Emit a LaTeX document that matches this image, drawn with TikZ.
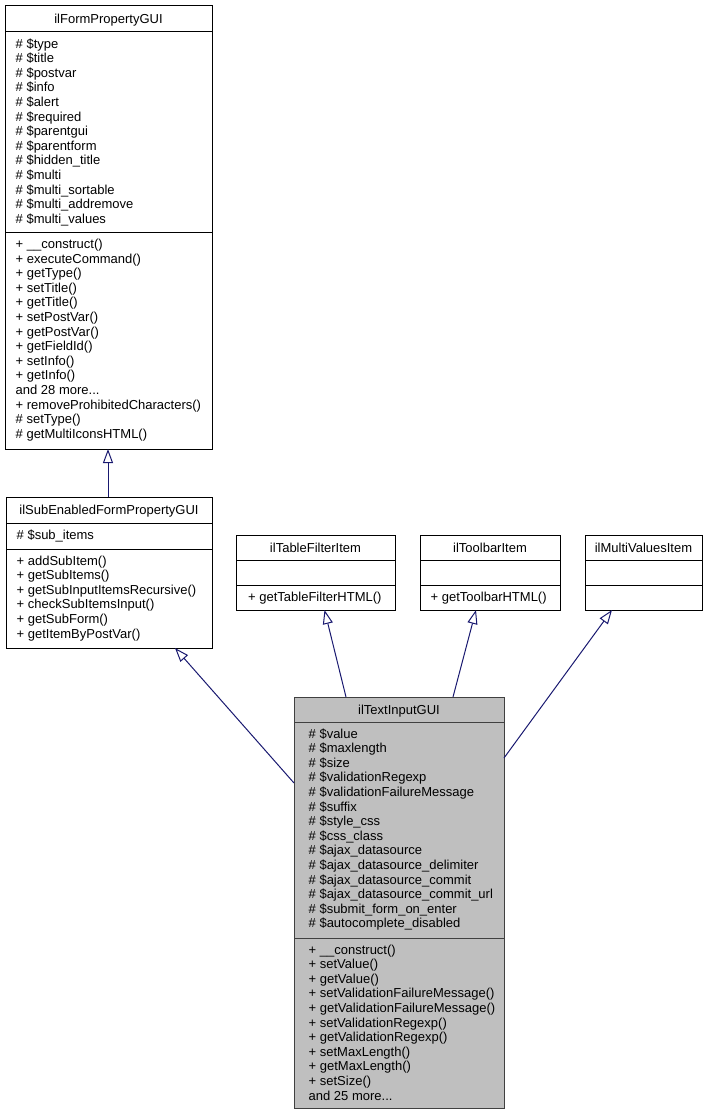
\documentclass[tikz,border=0pt]{standalone}
\usepackage{fontspec}
\setmainfont{Liberation Sans}
\usetikzlibrary{arrows.meta}
\definecolor{edgeblue}{RGB}{25,25,112}
\definecolor{hilite}{RGB}{191,191,191}
\definecolor{hiborder}{RGB}{64,64,64}
\newcommand\ftx{\fontsize{13}{14.6}\selectfont\lineskiplimit=-20pt\lineskip=0pt}
\newcommand\fst{\rule{0pt}{11pt}}
\begin{document}
\begin{tikzpicture}[x=1pt,y=-1pt,
  box/.style={draw=black, line width=1pt, fill=white, inner sep=0pt, outer sep=0pt},
  ttl/.style={anchor=base, inner sep=0pt, font=\ftx},
  mem/.style={anchor=north west, inner sep=0pt, align=left, font=\ftx},
  sepline/.style={draw=black, line width=1pt},
  inh/.style={draw=edgeblue, line width=1pt, -{Triangle[length=14pt,width=10pt,fill=white,line width=1pt]}}]
\useasboundingbox (0,0) rectangle (707,1116);

% ilFormPropertyGUI
\node[box, minimum width=207pt, minimum height=443pt] (fp) at (108.5,227.5) {};
\draw[sepline] (fp.west |- 0,32) -- (fp.east |- 0,32);
\draw[sepline] (fp.west |- 0,232) -- (fp.east |- 0,232);
\node[ttl] (fpT) at (108.5,23.6) {ilFormPropertyGUI};
\node[mem] (fpA) at (15.5,36.8) {\fst\# \$type\\\# \$title\\\# \$postvar\\\# \$info\\\# \$alert\\\# \$required\\\# \$parentgui\\\# \$parentform\\\# \$hidden\_title\\\# \$multi\\\# \$multi\_sortable\\\# \$multi\_addremove\\\# \$multi\_values};
\node[mem] (fpM) at (15.5,237.3) {\fst+ \_\_construct()\\+ executeCommand()\\+ getType()\\+ setTitle()\\+ getTitle()\\+ setPostVar()\\+ getPostVar()\\+ getFieldId()\\+ setInfo()\\+ getInfo()\\and 28 more...\\+ removeProhibitedCharacters()\\\# setType()\\\# getMultiIconsHTML()};

% ilSubEnabledFormPropertyGUI
\node[box, minimum width=206pt, minimum height=151pt] (sub) at (109,572.5) {};
\draw[sepline] (sub.west |- 0,523) -- (sub.east |- 0,523);
\draw[sepline] (sub.west |- 0,549) -- (sub.east |- 0,549);
\node[ttl] (subT) at (109,514.6) {ilSubEnabledFormPropertyGUI};
\node[mem] (subA) at (16.5,527.8) {\fst\# \$sub\_items};
\node[mem] (subM) at (16.5,553.8) {\fst+ addSubItem()\\+ getSubItems()\\+ getSubInputItemsRecursive()\\+ checkSubItemsInput()\\+ getSubForm()\\+ getItemByPostVar()};

% ilTableFilterItem
\node[box, minimum width=159pt, minimum height=75pt] (tf) at (315.5,572.5) {};
\draw[sepline] (tf.west |- 0,560) -- (tf.east |- 0,560);
\draw[sepline] (tf.west |- 0,585) -- (tf.east |- 0,585);
\node[ttl] (tfT) at (315.5,552.1) {ilTableFilterItem};
\node[mem] (tfM) at (248,589.8) {\fst+ getTableFilterHTML()};

% ilToolbarItem
\node[box, minimum width=140pt, minimum height=75pt] (tb) at (490,572.5) {};
\draw[sepline] (tb.west |- 0,560) -- (tb.east |- 0,560);
\draw[sepline] (tb.west |- 0,585) -- (tb.east |- 0,585);
\node[ttl] (tbT) at (490,552.1) {ilToolbarItem};
\node[mem] (tbM) at (430.5,589.8) {\fst+ getToolbarHTML()};

% ilMultiValuesItem
\node[box, minimum width=117pt, minimum height=75pt] (mv) at (643.5,572.5) {};
\draw[sepline] (mv.west |- 0,560) -- (mv.east |- 0,560);
\draw[sepline] (mv.west |- 0,585) -- (mv.east |- 0,585);
\node[ttl] (mvT) at (643.5,552.1) {ilMultiValuesItem};

% ilTextInputGUI
\node[box, draw=hiborder, fill=hilite, minimum width=210pt, minimum height=411pt] (ti) at (399,902.5) {};
\draw[sepline, draw=hiborder] (ti.west |- 0,722) -- (ti.east |- 0,722);
\draw[sepline, draw=hiborder] (ti.west |- 0,938) -- (ti.east |- 0,938);
\node[ttl] (tiT) at (399,714.1) {ilTextInputGUI};
\node[mem] (tiA) at (308.5,726.8) {\fst\# \$value\\\# \$maxlength\\\# \$size\\\# \$validationRegexp\\\# \$validationFailureMessage\\\# \$suffix\\\# \$style\_css\\\# \$css\_class\\\# \$ajax\_datasource\\\# \$ajax\_datasource\_delimiter\\\# \$ajax\_datasource\_commit\\\# \$ajax\_datasource\_commit\_url\\\# \$submit\_form\_on\_enter\\\# \$autocomplete\_disabled};
\node[mem] (tiM) at (308.5,942.8) {\fst+ \_\_construct()\\+ setValue()\\+ getValue()\\+ setValidationFailureMessage()\\+ getValidationFailureMessage()\\+ setValidationRegexp()\\+ getValidationRegexp()\\+ setMaxLength()\\+ getMaxLength()\\+ setSize()\\and 25 more...};

% inheritance connectors
\draw[inh] (sub.north -| 108,0) -- (fp.south -| 108,0);
\draw[inh] (ti.west |- 0,783) -- (sub.south -| 175,0);
\draw[inh] (ti.north -| 346,0) -- (tf.south -| 324.5,0);
\draw[inh] (ti.north -| 453,0) -- (tb.south -| 476,0);
\draw[inh] (ti.east |- 0,758) -- (mv.south -| 612,0);
\end{tikzpicture}
\end{document}
